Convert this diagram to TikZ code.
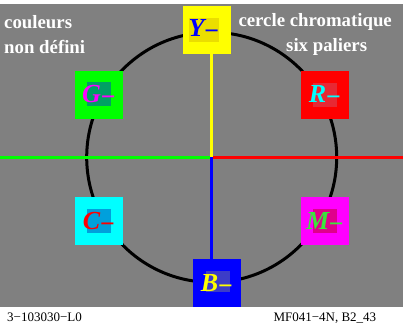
\documentclass[tikz,border=0pt]{standalone}
\usepackage{fontspec}
\setmainfont{Liberation Serif}
\definecolor{bggray}{RGB}{128,128,128}
\definecolor{Ycol}{RGB}{255,255,0}
\definecolor{Gcol}{RGB}{0,255,0}
\definecolor{Rcol}{RGB}{255,0,0}
\definecolor{Ccol}{RGB}{0,255,255}
\definecolor{Mcol}{RGB}{255,0,255}
\definecolor{Bcol}{RGB}{0,0,255}
\definecolor{Yinner}{RGB}{235,222,0}
\definecolor{Ginner}{RGB}{0,160,100}
\definecolor{Rinner}{RGB}{232,40,52}
\definecolor{Cinner}{RGB}{0,160,220}
\definecolor{Minner}{RGB}{224,0,140}
\definecolor{Binner}{RGB}{60,60,200}
\definecolor{Mlab}{RGB}{60,230,60}
\tikzset{
  outerbox/.style={draw=none,minimum size=48pt,inner sep=0pt,outer sep=0pt},
  innerbox/.style={draw=none,minimum size=24pt,inner sep=0pt},
  lab/.style={inner sep=0pt,anchor=base,font=\fontsize{26}{26}\selectfont\bfseries\itshape},
  title/.style={inner sep=0pt,anchor=base west,text=white,font=\fontsize{18.8}{18.8}\selectfont\bfseries},
  foot/.style={inner sep=0pt,anchor=base west,text=black,font=\fontsize{13}{13}\selectfont},
  axis/.style={line width=3pt}
}
\newcommand{\mylab}[1]{#1\kern-1pt\raisebox{-3pt}{\char"2212}}
\begin{document}
\begin{tikzpicture}[x=1pt,y=-1pt]
\useasboundingbox (0,0) rectangle (413,325);
\fill[bggray] (0,4) rectangle (403,307);
\coordinate (O) at (211.7,157.3);
\coordinate (L) at (0,157.3);
\coordinate (Rt) at (403,157.3);
\draw[line width=3pt,black] (O) circle[radius=125];
% squares
\node[outerbox,fill=Ycol] (Y) at (207,29.5) {};
\node[outerbox,fill=Gcol] (G) at (99,95) {};
\node[outerbox,fill=Rcol] (R) at (325,95) {};
\node[outerbox,fill=Ccol] (C) at (99,221) {};
\node[outerbox,fill=Mcol] (M) at (325,221) {};
\node[outerbox,fill=Bcol] (B) at (216.7,283.3) {};
% axes
\draw[axis,Gcol] (L) -- (O);
\draw[axis,Rcol] (O) -- (Rt);
\draw[axis,Ycol] (O) -- (O |- Y.south);
\draw[axis,Bcol] (O) -- (O |- B.north);
% inner squares
\node[innerbox,fill=Yinner,minimum width=30pt] (Yi) at (204,30) {};
\node[innerbox,fill=Ginner] (Gi) at (99,94) {};
\node[innerbox,fill=Rinner] (Ri) at (324.7,94.7) {};
\node[innerbox,fill=Cinner] (Ci) at (99,221) {};
\node[innerbox,fill=Minner] (Mi) at (324.7,221) {};
\node[innerbox,fill=Binner,minimum height=21pt] (Bi) at (217.5,281.7) {};
% labels
\node[lab,text=Bcol] (Yl) at (204,36) {\mylab{Y}};
\node[lab,text=Mcol] (Gl) at (99,102.7) {\mylab{G}};
\node[lab,text=Ccol] (Rl) at (325,102.7) {\mylab{R}};
\node[lab,text=Rcol] (Cl) at (99,229) {\mylab{C}};
\node[lab,text=Mlab] (Ml) at (325,229) {\mylab{M}};
\node[lab,text=Ycol] (Bl) at (217,291) {\mylab{B}};
% titles
\node[title] (t1) at (4,28) {couleurs};
\node[title] (t2) at (4,53) {non défini};
\node[title] (t3) at (238.3,26.7) {cercle chromatique};
\node[title] (t4) at (286,51.7) {six paliers};
\node[foot] (f1) at (7,321) {3\char"2212 103030\char"2212 L0};
\node[foot] (f2) at (273.3,321) {MF041\char"2212 4N, B2\_43};
\end{tikzpicture}
\end{document}
